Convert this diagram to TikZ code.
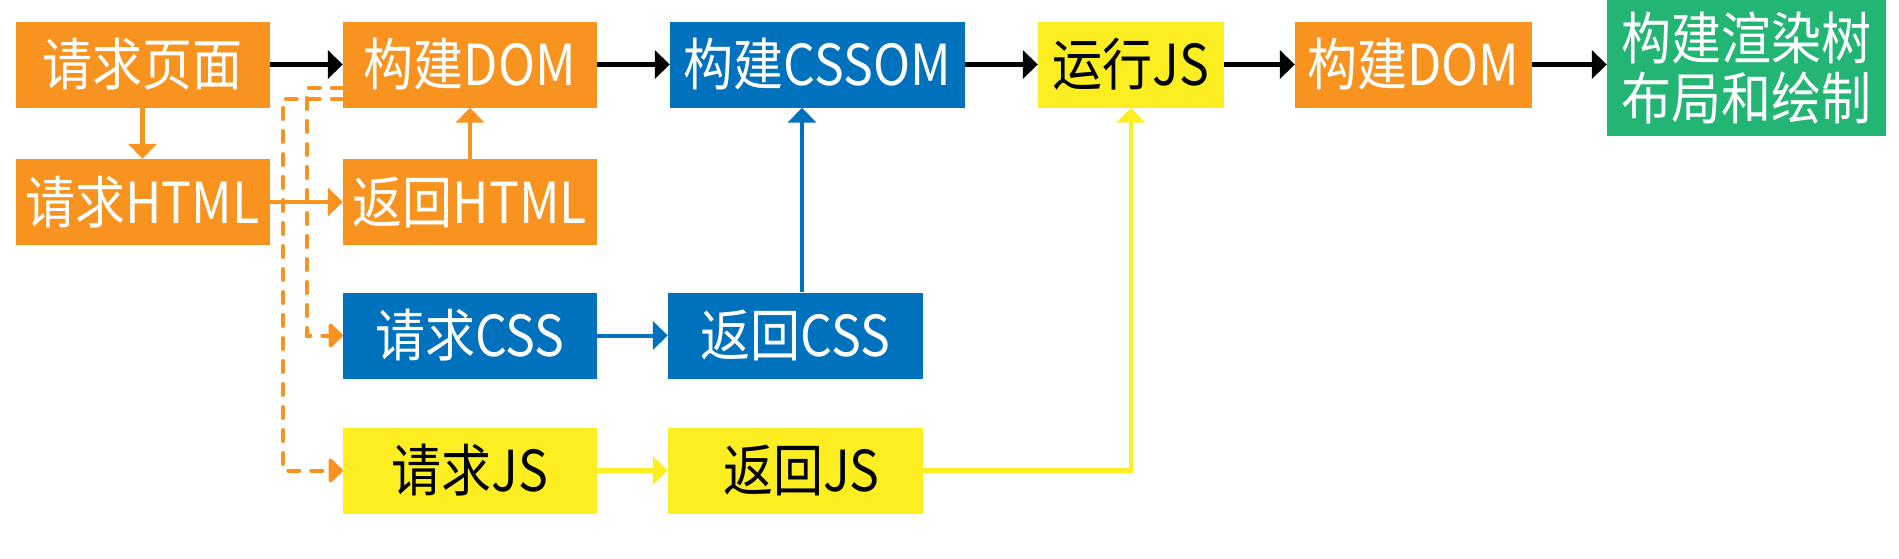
\documentclass[tikz,border=0pt]{standalone}
\usepackage{graphicx}
\usepackage{fontspec}
\newfontfamily\cjk{Noto Sans CJK SC}
\usetikzlibrary{arrows.meta,calc}
\definecolor{cor}{HTML}{F7931E}
\definecolor{cbl}{HTML}{0071BC}
\definecolor{cye}{HTML}{FCEE21}
\definecolor{cgr}{HTML}{22B573}
\newcommand{\tallt}[1]{\scalebox{1}[1.13]{#1}}
\tikzset{
  box/.style={rectangle, inner sep=0pt, minimum height=86pt, minimum width=254pt,
    font=\cjk\fontsize{50}{60}\selectfont, text=white},
  obox/.style={box, fill=cor},
  bbox/.style={box, fill=cbl},
  ybox/.style={box, fill=cye, text=black},
  gbox/.style={box, fill=cgr, align=center, font=\cjk\fontsize{50}{60}\selectfont},
  tip/.style={-{Triangle[length=15pt,width=28pt]}},
  karrow/.style={tip, line width=4.5pt, draw=black},
  oarrow/.style={tip, line width=4.5pt, draw=cor},
  barrow/.style={tip, line width=4pt, draw=cbl},
  yarrow/.style={tip, line width=4.5pt, draw=cye},
  darrow/.style={-{Triangle[length=15pt,width=28pt,round=false]}, line width=4pt, draw=cor,
    line cap=round, dash pattern=on 11pt off 12pt},
}
\begin{document}
\begin{tikzpicture}[x=1pt,y=-1pt]
\useasboundingbox (0,0) rectangle (1899,558);
% row 1
\node[obox] (page) at (142.5,64.5) {\tallt{请求页面}};
\node[obox] (dom1) at (470,64.5) {\tallt{构建DOM}};
\node[bbox, minimum width=295pt] (cssom) at (817.5,64.5) {\tallt{构建CSSOM}};
\node[ybox, minimum width=186pt] (runjs) at (1131,64.5) {\tallt{运行JS}};
\node[obox, minimum width=237pt] (dom2) at (1413.5,64.5) {\tallt{构建DOM}};
\node[gbox, minimum width=279pt, minimum height=136pt] (render) at (1746.5,68) {\tallt{构建渲染树}\\\tallt{布局和绘制}};
% row 2
\node[obox] (reqhtml) at (142.5,202) {\tallt{请求HTML}};
\node[obox] (rethtml) at (470,202) {\tallt{返回HTML}};
% row 3
\node[bbox] (reqcss) at (470,335.5) {\tallt{请求CSS}};
\node[bbox, minimum width=255pt] (retcss) at (795.5,335.5) {\tallt{返回CSS}};
% row 4
\node[ybox] (reqjs) at (470,470.5) {\tallt{请求JS}};
\node[ybox, minimum width=255pt] (retjs) at (795.5,470.5) {\hspace{12pt}\tallt{返回JS}};
% black arrows
\draw[karrow] (page.east) -- (dom1.west);
\draw[karrow] (dom1.east) -- (cssom.west);
\draw[karrow] (cssom.east) -- (runjs.west);
\draw[karrow] (runjs.east) -- (dom2.west);
\draw[karrow] (dom2.east) -- (dom2.east -| render.west);
% orange
\draw[oarrow] (page.south) -- (reqhtml.north);
\draw[oarrow] (reqhtml.east) -- (rethtml.west);
\draw[oarrow] (rethtml.north) -- (dom1.south);
% blue
\draw[barrow] (reqcss.east) -- (retcss.west);
\draw[barrow] ([xshift=6.5pt]retcss.north) -- ([xshift=6.5pt]retcss.north |- cssom.south);
% yellow
\draw[yarrow] (reqjs.east) -- (retjs.west);
\draw[yarrow] (retjs.east) -| (runjs.south);
% dashed
\draw[darrow] ([yshift=-23.5pt]dom1.west) -- ++(-36,0) |- (reqcss.west);
\draw[darrow] ([yshift=-34.5pt]dom1.west) -- ++(-60,0) |- (reqjs.west);
\end{tikzpicture}
\end{document}
